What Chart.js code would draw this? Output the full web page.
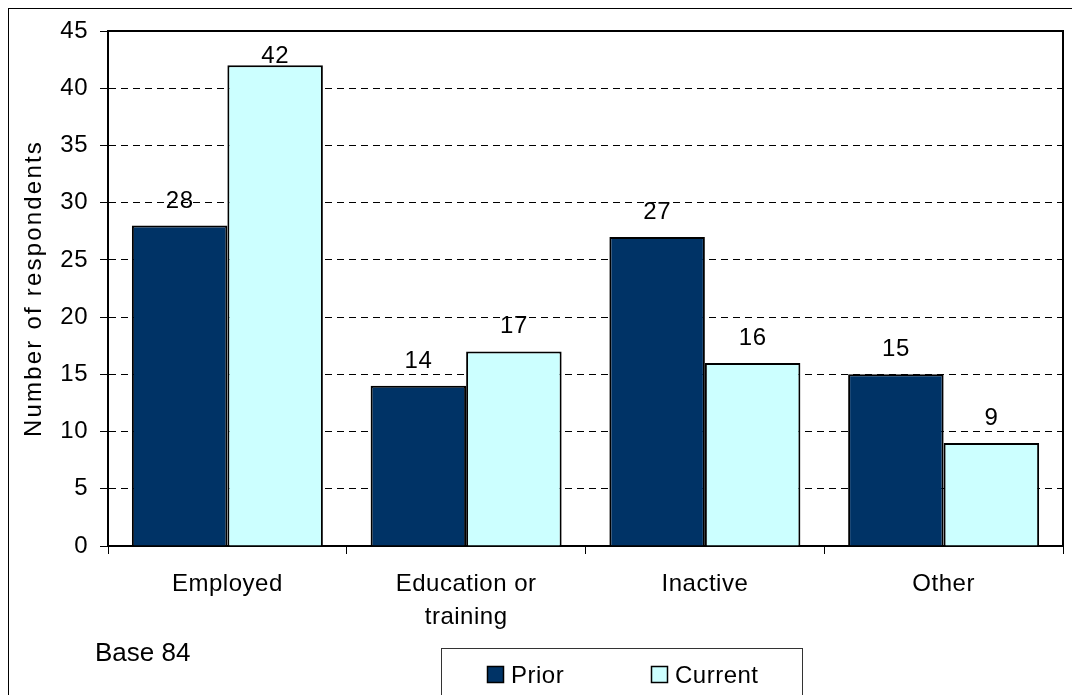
<!DOCTYPE html>
<html>
<head>
<meta charset="utf-8">
<script src="https://cdn.jsdelivr.net/npm/chart.js@4.4.1/dist/chart.umd.min.js"></script>
<style>
  html, body { margin: 0; padding: 0; background: #fff; }
  #wrap { width: 1072px; height: 695px; }
</style>
</head>
<body>
<div id="wrap"><canvas id="chart" width="1072" height="695"></canvas></div>
<script>
/* ---------- data ---------- */
const categories = [['Employed'], ['Education or', 'training'], ['Inactive'], ['Other']];
const priorValues = [28, 14, 27, 15];
const currentValues = [42, 17, 16, 9];
const seriesNames = ['Prior', 'Current'];
const seriesColors = ['#003366', '#CCFFFF'];
const yMin = 0, yMax = 45, yStep = 5;
const yTitle = 'Number of respondents';
const baseNote = 'Base 84';

const FONT = '"Liberation Sans", Arial, sans-serif';

/* ---------- plugins ---------- */

// slightly wider text, like the original rendering
const spacingPlugin = {
  id: 'spacing',
  beforeLayout(chart) { chart.ctx.letterSpacing = '0.5px'; },
  beforeDraw(chart) {
    const ctx = chart.ctx;
    ctx.letterSpacing = '0.5px';
    ctx.save();
    ctx.fillStyle = '#fff';
    ctx.fillRect(0, 0, chart.width, chart.height);
    ctx.restore();
  }
};

const valueLabels = {
  id: 'valueLabels',
  afterDatasetsDraw(chart) {
    const ctx = chart.ctx;
    const top = chart.chartArea.top;
    ctx.save();
    ctx.font = '24px ' + FONT;
    ctx.letterSpacing = '0.5px';
    ctx.fillStyle = '#000';
    ctx.textAlign = 'center';
    ctx.textBaseline = 'alphabetic';
    chart.data.datasets.forEach((ds, i) => {
      chart.getDatasetMeta(i).data.forEach((bar, j) => {
        const y = Math.max(bar.y - 18, top + 32);
        ctx.fillText(String(ds.data[j]), bar.x, y);
      });
    });
    ctx.restore();
  }
};

const decorations = {
  id: 'decorations',
  afterDraw(chart) {
    const ctx = chart.ctx;
    const { left, right, top, bottom } = chart.chartArea;
    ctx.save();

    // outer frame
    ctx.strokeStyle = '#000';
    ctx.lineWidth = 1;
    ctx.strokeRect(8.5, 8.5, chart.width + 20, chart.height + 20);

    // plot frame top / right
    ctx.lineWidth = 2;
    ctx.beginPath();
    ctx.moveTo(left, top);
    ctx.lineTo(right, top);
    ctx.lineTo(right, bottom);
    ctx.stroke();

    // y axis title
    ctx.save();
    ctx.translate(34, (top + bottom) / 2);
    ctx.rotate(-Math.PI / 2);
    ctx.font = '24px ' + FONT;
    ctx.letterSpacing = '2.2px';
    ctx.fillStyle = '#000';
    ctx.textAlign = 'center';
    ctx.textBaseline = 'middle';
    ctx.fillText(yTitle, 0, 0);
    ctx.restore();

    // base note
    ctx.font = '26px ' + FONT;
    ctx.letterSpacing = '0px';
    ctx.fillStyle = '#000';
    ctx.textAlign = 'left';
    ctx.textBaseline = 'alphabetic';
    ctx.fillText(baseNote, 95, 661);

    // legend box
    ctx.lineWidth = 1;
    ctx.strokeStyle = '#333';
    ctx.strokeRect(441.5, 648.5, 361, 80);

    const items = [
      { x: 487, label: chart.data.datasets[0].label, color: chart.data.datasets[0].backgroundColor },
      { x: 651, label: chart.data.datasets[1].label, color: chart.data.datasets[1].backgroundColor }
    ];
    ctx.font = '24px ' + FONT;
    ctx.letterSpacing = '0.5px';
    items.forEach(it => {
      ctx.fillStyle = it.color;
      ctx.fillRect(it.x, 666, 17, 17);
      ctx.strokeStyle = '#000';
      ctx.lineWidth = 1.5;
      ctx.strokeRect(it.x + 0.5, 666.5, 16, 16);
      ctx.fillStyle = '#000';
      ctx.fillText(it.label, it.x + 24, 683);
    });

    ctx.restore();
  }
};

/* ---------- chart ---------- */

new Chart(document.getElementById('chart'), {
  type: 'bar',
  data: {
    labels: categories,
    datasets: [
      {
        label: seriesNames[0],
        data: priorValues,
        backgroundColor: seriesColors[0],
        borderColor: '#000',
        borderWidth: 2,
        categoryPercentage: 0.8,
        barPercentage: 1.0
      },
      {
        label: seriesNames[1],
        data: currentValues,
        backgroundColor: seriesColors[1],
        borderColor: '#000',
        borderWidth: 2,
        categoryPercentage: 0.8,
        barPercentage: 1.0
      }
    ]
  },
  options: {
    responsive: false,
    animation: false,
    layout: { padding: { top: 31, right: 9, left: 0, bottom: 0 } },
    plugins: {
      legend: { display: false },
      tooltip: { enabled: false }
    },
    scales: {
      x: {
        afterFit(scale) { scale.height = 149; },
        grid: {
          offset: true,
          drawOnChartArea: false,
          drawTicks: true,
          tickLength: 8,
          tickColor: '#000',
          tickWidth: 1
        },
        border: { display: true, color: '#000', width: 2 },
        ticks: {
          color: '#000',
          padding: 14,
          maxRotation: 0,
          autoSkip: false,
          font: { family: FONT, size: 24, lineHeight: 1.38 }
        }
      },
      y: {
        min: yMin,
        max: yMax,
        afterFit(scale) { scale.width = 108; },
        grid: {
          color: '#000',
          lineWidth: 1,
          tickLength: 8,
          tickColor: '#000',
          tickWidth: 1,
          tickBorderDash: []
        },
        border: { display: true, color: '#000', width: 2, dash: [7, 5] },
        ticks: {
          stepSize: yStep,
          color: '#000',
          padding: 12,
          font: { family: FONT, size: 24 }
        }
      }
    }
  },
  plugins: [spacingPlugin, valueLabels, decorations]
});
</script>
</body>
</html>
